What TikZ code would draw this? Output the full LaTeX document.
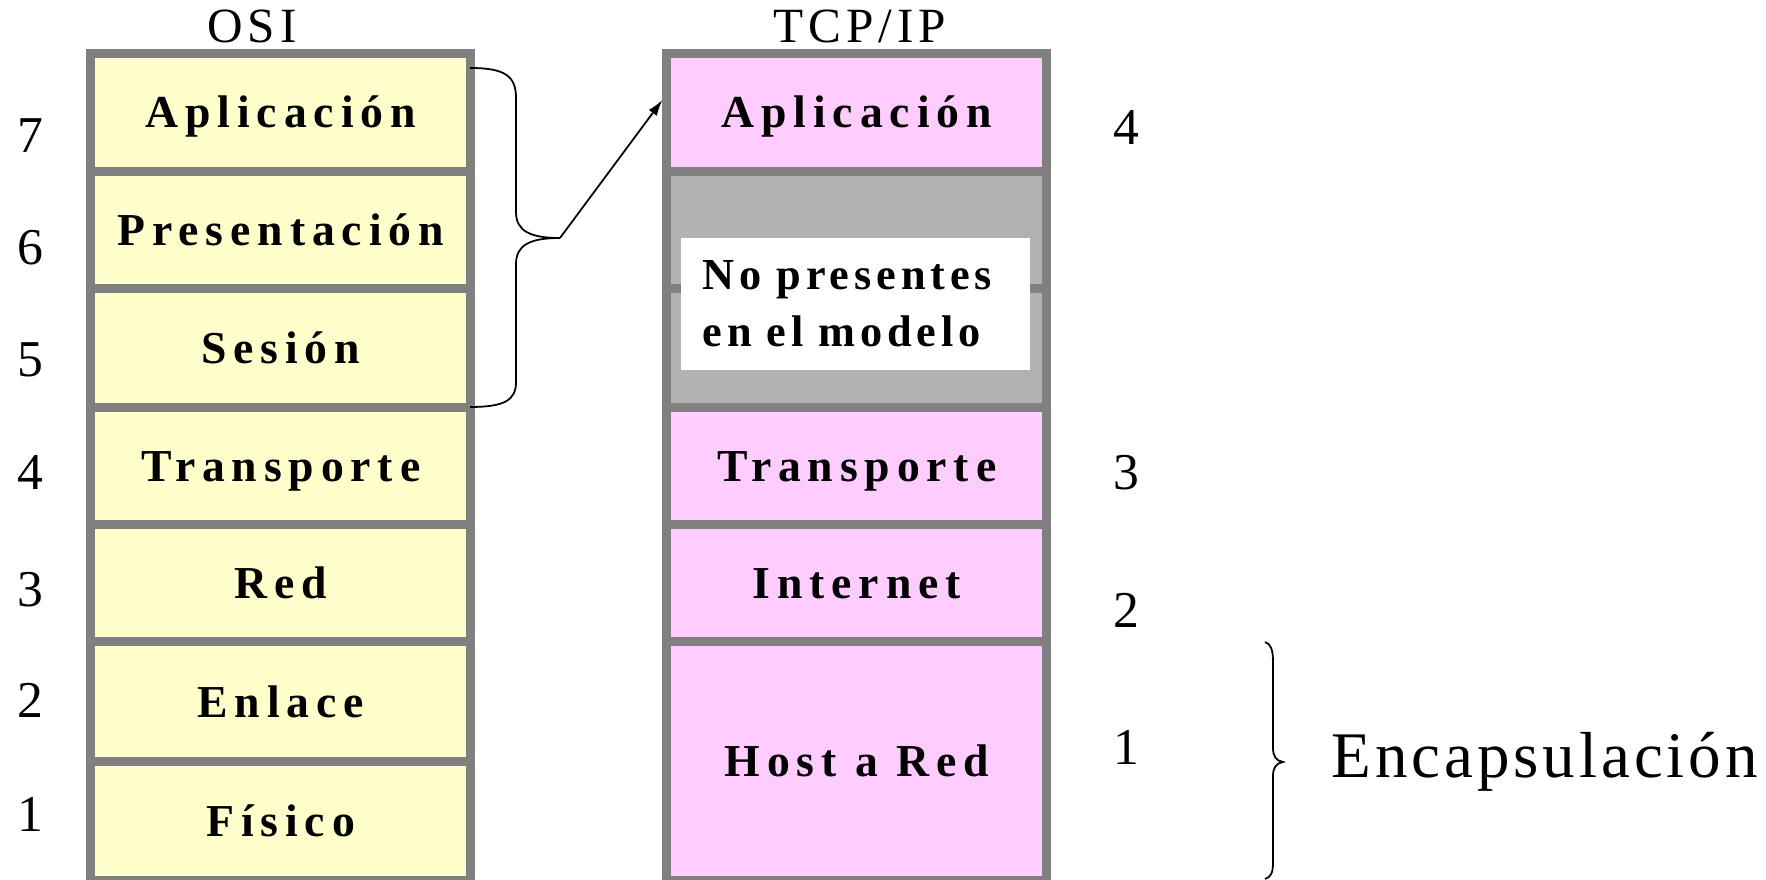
\documentclass[tikz,border=0pt]{standalone}
\usepackage{fontspec}
\setmainfont{Liberation Serif}
\newfontfamily\layerfam[LetterSpace=15]{Liberation Serif}
\newfontfamily\notefam[LetterSpace=11]{Liberation Serif}
\newfontfamily\titlefam[LetterSpace=10]{Liberation Serif}
\newfontfamily\capfam[LetterSpace=6]{Liberation Serif}
\usetikzlibrary{arrows.meta}

\definecolor{bordergray}{HTML}{808080}
\definecolor{osiyellow}{HTML}{FFFFCC}
\definecolor{tcppink}{HTML}{FFCCFF}
\definecolor{absentgray}{HTML}{B2B2B2}

\tikzset{
  layer/.style={draw=bordergray, line width=0.09cm, minimum width=3.795cm,
    inner sep=0pt, text height=8.6pt, text depth=0pt,
    font=\layerfam\bfseries\fontsize{13}{15}\selectfont},
  osi/.style={layer, fill=osiyellow},
  tcp/.style={layer, fill=tcppink},
  absent/.style={layer, fill=absentgray},
  notebox/.style={fill=white, minimum width=3.49cm, minimum height=1.32cm,
    inner xsep=0.22cm, inner ysep=0pt, align=left, text width=3.05cm,
    font=\notefam\bfseries\fontsize{12.6}{16.2}\selectfont},
  levelnum/.style={anchor=base, inner sep=0pt, font=\fontsize{14.7}{17}\selectfont},
  modeltitle/.style={anchor=base, inner sep=0pt, font=\titlefam\fontsize{14}{17}\selectfont},
  bracepath/.style={line width=0.5pt, black},
  arr/.style={line width=0.5pt, black, -{Latex[length=0.16cm, width=0.1cm]}}
}

\begin{document}
\begin{tikzpicture}[x=0.01cm, y=-0.01cm]
\useasboundingbox (0,0) rectangle (1766,880);

% OSI stack
\node[modeltitle] (osititle) at (252,43) {OSI};
\node[osi, minimum height=1.185cm] (o7) at (280.75,112.75) {Aplicación};
\node[osi, minimum height=1.17cm]  (o6) at (280.75,230.5)  {Presentación};
\node[osi, minimum height=1.19cm]  (o5) at (280.75,348.5)  {Sesión};
\node[osi, minimum height=1.17cm]  (o4) at (280.75,466.5)  {Transporte};
\node[osi, minimum height=1.17cm]  (o3) at (280.75,583.5)  {Red};
\node[osi, minimum height=1.20cm]  (o2) at (280.75,702)    {Enlace};
\node[osi, minimum height=1.185cm] (o1) at (280.75,821.25) {Físico};

% OSI level numbers
\node[levelnum] (n7) at (30,153) {7};
\node[levelnum] (n6) at (30,265) {6};
\node[levelnum] (n5) at (30,377) {5};
\node[levelnum] (n4) at (30,490) {4};
\node[levelnum] (n3) at (30,607) {3};
\node[levelnum] (n2) at (30,718) {2};
\node[levelnum] (n1) at (30,832) {1};

% TCP/IP stack
\node[modeltitle] (tcptitle) at (860,43) {TCP/IP};
\node[tcp, minimum height=1.185cm] (t4) at (856.75,112.75) {Aplicación};
\node[absent, minimum height=1.17cm] (g6) at (856.75,230.5) {};
\node[absent, minimum height=1.19cm] (g5) at (856.75,348.5) {};
\node[notebox] (absentnote) at (855.5,304) {No presentes\\en el modelo};
\node[tcp, minimum height=1.17cm]  (t3) at (856.75,466.5) {Transporte};
\node[tcp, minimum height=1.17cm]  (t2) at (856.75,583.5) {Internet};
\node[tcp, minimum height=2.385cm] (t1) at (856.75,761.25) {Host a Red};

% TCP/IP level numbers
\node[levelnum] (m4) at (1126,145) {4};
\node[levelnum] (m3) at (1126,490) {3};
\node[levelnum] (m2) at (1126,628) {2};
\node[levelnum] (m1) at (1126,765) {1};

% brace grouping the three upper OSI layers, and arrow to the application layer
\coordinate (btop) at (470,68);
\coordinate (btip) at (560,238);
\coordinate (bbot) at (470,407);
\draw[bracepath] (btop) .. controls (505,68) and (516,76) .. (516,98)
  -- (516,212) .. controls (516,231) and (530,238) .. (btip)
  .. controls (530,238) and (516,245) .. (516,264)
  -- (516,382) .. controls (516,400) and (505,407) .. (bbot);
\draw[arr] (btip) -- ([yshift=0.1275cm]t4.west);

% brace and label for the encapsulation layer
\coordinate (etop) at (1265,642);
\coordinate (etip) at (1283,762);
\coordinate (ebot) at (1265,879);
\draw[bracepath] (etop) .. controls (1271,644) and (1273,650) .. (1273,662)
  -- (1273,748) .. controls (1273,756) and (1276,761) .. (etip)
  .. controls (1276,763) and (1273,768) .. (1273,776)
  -- (1273,862) .. controls (1273,873) and (1271,877) .. (ebot);
\node[anchor=base west, inner sep=0pt, font=\capfam\fontsize{18.5}{22}\selectfont]
  (encap) at (1331,778) {Encapsulación};
\end{tikzpicture}
\end{document}
